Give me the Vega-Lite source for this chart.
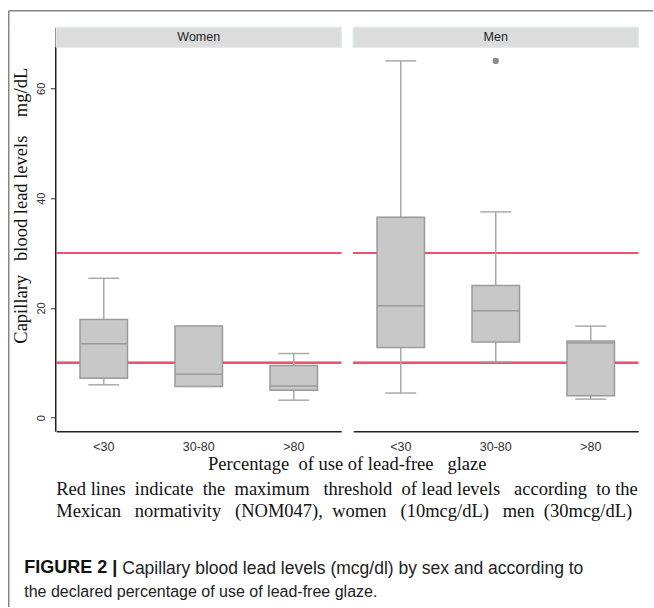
{
  "$schema": "https://vega.github.io/schema/vega-lite/v6.json",
  "padding": {"left": 8.25, "top": 10.25, "right": 0, "bottom": 0},
  "autosize": {"type": "pad"},
  "background": "white",
  "bounds": "flush",
  "spacing": 0,
  "config": {
    "view": {"stroke": null},
    "font": "Liberation Sans",
    "axisX": {"grid": false, "ticks": false, "domainColor": "#222", "domainWidth": 1.5, "labelFontSize": 12.5, "labelColor": "#333", "labelPadding": 9, "labelFont": "Liberation Sans"},
    "axisY": {"gridColor": "#e6eff2", "gridWidth": 1.2, "domainColor": "#222", "domainWidth": 1.5, "tickColor": "#333", "tickSize": 5, "labelAngle": -90, "labelAlign": "center", "labelBaseline": "bottom", "labelPadding": 4, "labelFontSize": 11, "labelColor": "#333", "labelFont": "Liberation Sans", "titleFont": "Liberation Serif", "titleFontSize": 18.5, "titleFontWeight": "normal", "titleColor": "#111", "titleX": -35, "titleY": 178, "titleAngle": -90, "titleAlign": "center", "titleBaseline": "middle"}
  },
  "vconcat": [
    {
      "width": 644.5,
      "height": 17,
      "data": {"values": [{"a": 0, "b": 0}]},
      "mark": {"type": "point", "opacity": 0},
      "encoding": {
        "x": {"field": "a", "type": "quantitative", "axis": {"orient": "top", "labels": false, "ticks": false, "grid": false, "title": null, "domainColor": "#858585", "domainWidth": 1.5}},
        "y": {"field": "b", "type": "quantitative", "axis": {"orient": "left", "labels": false, "ticks": false, "grid": false, "title": null, "domainColor": "#858585", "domainWidth": 1.5}}
      }
    },
    {
      "bounds": "flush",
      "spacing": 0,
      "hconcat": [
        {
          "width": 48, "height": 579.5,
          "data": {"values": [{"a": 0, "b": 0}]},
          "mark": {"type": "point", "opacity": 0},
          "encoding": {
            "y": {"field": "b", "type": "quantitative", "axis": {"orient": "left", "labels": false, "ticks": false, "grid": false, "title": null, "domainColor": "#858585", "domainWidth": 1.5}}
          }
        },
        {
          "bounds": "flush",
          "spacing": 529,
          "vconcat": [
            {
              "data": {"values": [
                {"sex": "Women", "grp": "<30", "lo": 6.0, "q1": 7.2, "med": 13.5, "q3": 17.9, "hi": 25.4},
                {"sex": "Women", "grp": "30-80", "lo": 5.7, "q1": 5.7, "med": 7.9, "q3": 16.7, "hi": 16.7},
                {"sex": "Women", "grp": ">80", "lo": 3.2, "q1": 5.0, "med": 5.8, "q3": 9.5, "hi": 11.7},
                {"sex": "Men", "grp": "<30", "lo": 4.5, "q1": 12.8, "med": 20.4, "q3": 36.5, "hi": 65.0},
                {"sex": "Men", "grp": "30-80", "lo": 10.2, "q1": 13.8, "med": 19.5, "q3": 24.1, "hi": 37.5, "out": 65.0},
                {"sex": "Men", "grp": ">80", "lo": 3.4, "q1": 4.0, "med": 13.6, "q3": 14.0, "hi": 16.7}
              ]},
              "title": {
                "text": ["Red lines\u00a0 indicate\u00a0 the\u00a0 maximum\u00a0\u00a0 threshold\u00a0 of lead levels\u00a0\u00a0 according\u00a0 to the", "Mexican\u00a0\u00a0 normativity\u00a0\u00a0 (NOM047),\u00a0 women\u00a0\u00a0 (10mcg/dL)\u00a0\u00a0 men\u00a0 (30mcg/dL)"],
                "orient": "bottom", "anchor": "start", "frame": "group",
                "font": "Liberation Serif", "fontSize": 18.5, "fontWeight": "normal", "color": "#111", "lineHeight": 22, "offset": 6
              },
              "facet": {"column": {"field": "sex", "type": "nominal", "sort": ["Women", "Men"], "header": {"labels": false, "title": "Percentage\u00a0 of use of lead-free\u00a0\u00a0 glaze", "titleOrient": "bottom", "titleFont": "Liberation Serif", "titleFontSize": 18.5, "titleFontWeight": "normal", "titleColor": "#111", "titlePadding": -8}}},
              "spacing": 10,
              "spec": {
                "width": 285,
                "height": 404,
                "layer": [
                  {
                    "mark": {"type": "rect", "color": "#dcdcdc", "stroke": "#e2ecef", "strokeWidth": 1},
                    "encoding": {
                      "y": {"datum": 67.49, "type": "quantitative", "title": "Capillary\u00a0\u00a0 blood lead levels\u00a0\u00a0\u00a0 mg/dL", "scale": {"domain": [-2.46, 71.13], "nice": false, "zero": false}, "axis": {"values": [0, 20, 40, 60]}},
                      "y2": {"datum": 71.13}
                    }
                  },
                  {
                    "mark": {"type": "rule", "color": "#ef4f70", "strokeWidth": 2},
                    "encoding": {"y": {"datum": 10, "type": "quantitative", "title": "Capillary\u00a0\u00a0 blood lead levels\u00a0\u00a0\u00a0 mg/dL"}}
                  },
                  {
                    "mark": {"type": "rule", "color": "#ef4f70", "strokeWidth": 2},
                    "encoding": {"y": {"datum": 30, "type": "quantitative", "title": "Capillary\u00a0\u00a0 blood lead levels\u00a0\u00a0\u00a0 mg/dL"}}
                  },
                  {
                    "mark": {"type": "rule", "color": "#aaaaaa", "strokeWidth": 1.5},
                    "encoding": {
                      "x": {"field": "grp", "type": "nominal", "sort": ["<30", "30-80", ">80"], "title": null, "scale": {"paddingInner": 0.5, "paddingOuter": 0.25}, "axis": {"labelAngle": 0}},
                      "y": {"field": "lo", "type": "quantitative", "title": "Capillary\u00a0\u00a0 blood lead levels\u00a0\u00a0\u00a0 mg/dL"},
                      "y2": {"field": "hi"}
                    }
                  },
                  {
                    "mark": {"type": "bar", "fill": "#c8c8c8", "stroke": "#9a9a9a", "strokeWidth": 1.5},
                    "encoding": {
                      "x": {"field": "grp", "type": "nominal", "sort": ["<30", "30-80", ">80"], "title": null},
                      "y": {"field": "q1", "type": "quantitative", "title": "Capillary\u00a0\u00a0 blood lead levels\u00a0\u00a0\u00a0 mg/dL"},
                      "y2": {"field": "q3"}
                    }
                  },
                  {
                    "mark": {"type": "tick", "color": "#9a9a9a", "size": 47, "thickness": 1.5, "opacity": 1},
                    "encoding": {
                      "x": {"field": "grp", "type": "nominal", "sort": ["<30", "30-80", ">80"], "title": null},
                      "y": {"field": "med", "type": "quantitative", "title": "Capillary\u00a0\u00a0 blood lead levels\u00a0\u00a0\u00a0 mg/dL"}
                    }
                  },
                  {
                    "mark": {"type": "tick", "color": "#aaaaaa", "size": 31, "thickness": 1.5, "opacity": 1},
                    "encoding": {
                      "x": {"field": "grp", "type": "nominal", "sort": ["<30", "30-80", ">80"], "title": null},
                      "y": {"field": "lo", "type": "quantitative", "title": "Capillary\u00a0\u00a0 blood lead levels\u00a0\u00a0\u00a0 mg/dL"}
                    }
                  },
                  {
                    "mark": {"type": "tick", "color": "#aaaaaa", "size": 31, "thickness": 1.5, "opacity": 1},
                    "encoding": {
                      "x": {"field": "grp", "type": "nominal", "sort": ["<30", "30-80", ">80"], "title": null},
                      "y": {"field": "hi", "type": "quantitative", "title": "Capillary\u00a0\u00a0 blood lead levels\u00a0\u00a0\u00a0 mg/dL"}
                    }
                  },
                  {
                    "mark": {"type": "point", "filled": true, "color": "#8c8c8c", "size": 40, "opacity": 1},
                    "encoding": {
                      "x": {"field": "grp", "type": "nominal", "sort": ["<30", "30-80", ">80"], "title": null},
                      "y": {"field": "out", "type": "quantitative", "title": "Capillary\u00a0\u00a0 blood lead levels\u00a0\u00a0\u00a0 mg/dL"}
                    }
                  },
                  {
                    "transform": [{"filter": "datum.grp === '30-80'"}],
                    "mark": {"type": "text", "fontSize": 12.5, "color": "#222", "font": "Liberation Sans", "baseline": "middle"},
                    "encoding": {
                      "x": {"field": "grp", "type": "nominal", "sort": ["<30", "30-80", ">80"], "title": null},
                      "y": {"datum": 69.31, "type": "quantitative", "title": "Capillary\u00a0\u00a0 blood lead levels\u00a0\u00a0\u00a0 mg/dL"},
                      "text": {"field": "sex"}
                    }
                  }
                ]
              }
            },
            {
              "hconcat": [
                {
                  "width": 98, "height": 1,
                  "data": {"values": [{}]},
                  "mark": {"type": "point", "opacity": 0},
                  "encoding": {},
                  "title": {"text": "FIGURE 2 |", "subtitle": "the declared percentage of use of lead-free glaze.", "orient": "bottom", "anchor": "start", "frame": "group", "dx": -32, "offset": 0, "font": "Liberation Sans", "fontSize": 18, "fontWeight": "bold", "color": "#111", "subtitleFont": "Liberation Sans", "subtitleFontSize": 16, "subtitleFontWeight": "normal", "subtitleColor": "#222", "subtitlePadding": 7}
                },
                {
                  "width": 400, "height": 1,
                  "data": {"values": [{}]},
                  "mark": {"type": "point", "opacity": 0},
                  "encoding": {},
                  "title": {"text": "Capillary blood lead levels (mcg/dl) by sex and according to", "orient": "bottom", "anchor": "start", "frame": "group", "dx": -32, "dy": 0.5, "offset": 0, "font": "Liberation Sans", "fontSize": 17.5, "fontWeight": "normal", "color": "#222"}
                }
              ],
              "bounds": "flush",
              "spacing": 0
            }
          ]
        }
      ]
    }
  ]
}
